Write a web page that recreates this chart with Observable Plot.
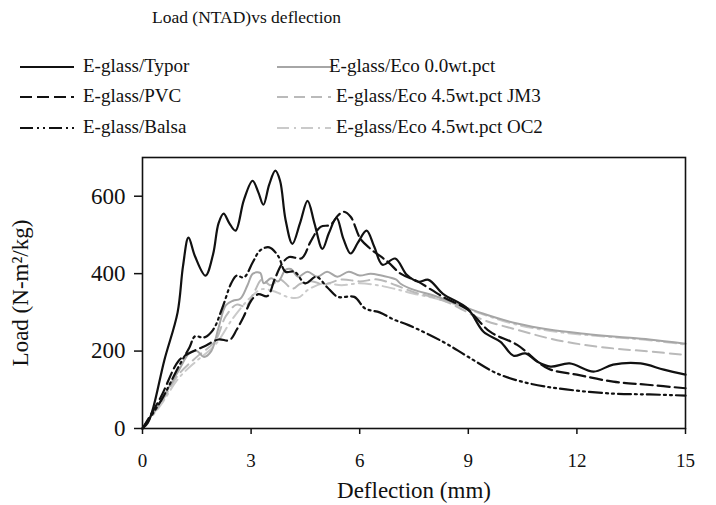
<!DOCTYPE html>
<html>
<head>
<meta charset="utf-8">
<script src="https://cdn.jsdelivr.net/npm/d3@7"></script>
<script src="https://cdn.jsdelivr.net/npm/@observablehq/plot@0.6"></script>
<style>
  html, body { margin: 0; padding: 0; background: #fff; font-family: 'Liberation Serif', 'DejaVu Serif', serif; }
  #wrap { width: 716px; height: 505px; position: relative; color: #111; }
  #head { position: relative; width: 716px; height: 140px; }
  .t { position: absolute; white-space: nowrap; line-height: 20px; font-family: 'Liberation Serif', 'DejaVu Serif', serif; }
  #title { font-size: 17.5px; left: 152px; top: 7px; }
  .lg { font-size: 19px; }
  .sw { position: absolute; }
  #chart svg { display: block; }
</style>
</head>
<body>
<div id="wrap">
  <div id="head"></div>
  <div id="chart"></div>
</div>
<script>
// ---- data (deflection mm, load N-m²/kg) ----
const typor = [[0,0],[0.15,15],[0.3,55],[0.6,175],[0.97,300],[1.12,420],[1.27,493],[1.45,445],[1.74,395],[1.95,450],[2.1,530],[2.24,555],[2.4,530],[2.57,511],[2.8,590],[3.04,640],[3.2,610],[3.34,578],[3.5,630],[3.67,666],[3.8,640],[3.95,540],[4.14,477],[4.35,530],[4.56,588],[4.75,530],[4.97,464],[5.15,505],[5.36,544],[5.55,490],[5.75,452],[5.95,480],[6.19,511],[6.4,470],[6.63,423],[6.98,439],[7.3,397],[7.62,379],[7.9,384],[8.3,348],[8.98,310],[9.42,250],[9.89,224],[10.25,188],[10.58,194],[10.9,173],[11.27,160],[11.8,168],[12.46,147],[13.0,165],[13.76,168],[14.4,152],[15,139]];
const pvc = [[0,0],[0.5,80],[1.0,175],[1.3,195],[1.7,212],[2.1,230],[2.4,228],[2.6,255],[2.8,290],[3.0,330],[3.2,347],[3.45,342],[3.65,385],[3.85,425],[4.05,443],[4.4,440],[4.64,482],[4.92,521],[5.19,526],[5.4,550],[5.55,560],[5.75,547],[6.02,490],[6.3,464],[6.77,431],[7.13,400],[7.6,380],[8.3,340],[8.98,307],[9.6,250],[10.35,216],[11.2,155],[12.0,139],[13.0,121],[13.95,113],[15,104]];
const balsa = [[0,0],[0.5,70],[1.0,160],[1.3,210],[1.45,238],[1.7,235],[1.95,255],[2.2,310],[2.45,375],[2.6,395],[2.8,390],[3.05,430],[3.25,460],[3.5,468],[3.75,445],[3.95,405],[4.2,405],[4.5,375],[4.8,392],[5.1,365],[5.4,340],[5.85,340],[6.15,310],[6.55,300],[6.95,281],[7.35,267],[8.3,224],[8.98,186],[9.8,142],[10.7,116],[11.7,101],[13.0,90],[14.0,88],[15,85]];
const eco00 = [[0,0],[0.5,70],[1.0,150],[1.3,195],[1.5,200],[1.7,185],[1.9,200],[2.1,260],[2.3,318],[2.5,330],[2.7,335],[2.9,370],[3.05,400],[3.25,402],[3.35,375],[3.55,388],[3.75,380],[3.95,410],[4.1,412],[4.3,392],[4.56,405],[4.83,392],[5.1,405],[5.38,392],[5.7,405],[6.0,395],[6.3,400],[6.6,395],[7.0,385],[7.13,374],[7.5,358],[8.0,345],[8.5,328],[9.4,297],[10.35,271],[11.27,255],[12.2,245],[13.1,237],[14.0,230],[15,219]];
const jm3 = [[0,0],[0.5,65],[1.0,140],[1.5,185],[2.0,225],[2.3,290],[2.6,320],[2.85,315],[3.1,355],[3.3,385],[3.54,370],[3.8,385],[4.14,361],[4.36,374],[4.7,380],[5.0,372],[5.5,385],[6.0,380],[6.5,385],[7.0,370],[7.5,352],[8.0,340],[8.5,323],[9.4,281],[10.35,255],[11.27,232],[12.2,216],[13.1,206],[14.0,199],[15,190]];
const oc2 = [[0,0],[0.5,60],[1.0,130],[1.5,175],[2.0,215],[2.5,285],[3.0,340],[3.3,360],[3.7,352],[4.0,340],[4.3,338],[4.6,360],[5.0,375],[5.5,370],[6.0,375],[6.5,370],[7.0,360],[7.5,348],[8.0,338],[8.5,325],[9.4,295],[10.35,268],[11.27,252],[12.2,242],[13.1,235],[14.0,228],[15,217]];

const seriesNames = ["E-glass/Typor","E-glass/PVC","E-glass/Balsa","E-glass/Eco 0.0wt.pct","E-glass/Eco 4.5wt.pct JM3","E-glass/Eco 4.5wt.pct OC2"];
const seriesData = [typor, pvc, balsa, eco00, jm3, oc2];
const seriesColors = ["#111","#111","#111","#a6a6a6","#bababa","#cacaca"];
const seriesDash = [null,"12,5","13,4,2,4,2,4",null,"11,6","12,5,2,5"];
const seriesWidth = [2.2,2.2,2.2,2,2,2];
const xTicks = [0,3,6,9,12,15];
const yTicks = [0,200,400,600];

// ---- header: title + legend ----
const FONT = "'Liberation Serif', 'DejaVu Serif', serif";
const head = document.getElementById("head");
const title = document.createElement("div");
title.className = "t"; title.id = "title";
title.style.fontFamily = FONT;
title.textContent = "Load (NTAD)vs deflection";
head.appendChild(title);

const legendPos = [
  {lx:20, tx:83, cy:67}, {lx:20, tx:83, cy:97}, {lx:20, tx:83, cy:128},
  {lx:277, tx:329, cy:67}, {lx:277, tx:336, cy:97}, {lx:277, tx:336, cy:128}
];
seriesNames.forEach((name, i) => {
  const p = legendPos[i];
  const svgNS = "http://www.w3.org/2000/svg";
  const sw = document.createElementNS(svgNS, "svg");
  sw.setAttribute("class","sw");
  sw.setAttribute("width", 54); sw.setAttribute("height", 8);
  sw.style.left = p.lx + "px"; sw.style.top = (p.cy - 4) + "px";
  const ln = document.createElementNS(svgNS, "line");
  ln.setAttribute("x1",0); ln.setAttribute("x2",54); ln.setAttribute("y1",4); ln.setAttribute("y2",4);
  ln.setAttribute("stroke", seriesColors[i]);
  ln.setAttribute("stroke-width", seriesWidth[i]);
  if (seriesDash[i]) ln.setAttribute("stroke-dasharray", seriesDash[i]);
  sw.appendChild(ln);
  head.appendChild(sw);
  const t = document.createElement("div");
  t.className = "t lg";
  t.style.fontFamily = FONT;
  t.textContent = name;
  t.style.left = p.tx + "px";
  t.style.top = (p.cy - 11) + "px";
  head.appendChild(t);
});

// ---- chart ----
const rows = [];
seriesData.forEach((d, i) => d.forEach(([x, y]) => rows.push({series: seriesNames[i], x, y})));

const lineMarks = seriesNames.map((name, i) =>
  Plot.line(rows.filter(r => r.series === name), {
    x: "x", y: "y",
    stroke: seriesColors[i],
    strokeWidth: seriesWidth[i],
    strokeDasharray: seriesDash[i] || undefined,
    curve: "catmull-rom"
  })
);
const ordered = [lineMarks[5], lineMarks[4], lineMarks[3], lineMarks[2], lineMarks[1], lineMarks[0]];

const chart = Plot.plot({
  width: 716,
  height: 365,
  marginTop: 17,
  marginLeft: 142,
  marginRight: 31,
  marginBottom: 77,
  style: {fontFamily: "Liberation Serif", color: "#111", background: "#fff"},
  x: {domain: [0, 15]},
  y: {domain: [0, 700]},
  marks: [
    ...ordered,
    Plot.frame({stroke: "#111", strokeWidth: 1.6}),
    Plot.axisY({ticks: yTicks, fontSize: 23, tickSize: 8, tickPadding: 9, strokeWidth: 1.5,
      label: "Load (N-m²/kg)", labelAnchor: "center", labelOffset: 131, labelArrow: "none"}),
    Plot.axisX({ticks: xTicks, fontSize: 19, tickSize: 6, tickPadding: 19, strokeWidth: 1.5, label: null}),
    Plot.axisX({ticks: [], tickSize: 0, fontSize: 23,
      label: "Deflection (mm)", labelAnchor: "center", labelOffset: 69, labelArrow: "none"})
  ]
});
document.getElementById("chart").appendChild(chart);
</script>
</body>
</html>
